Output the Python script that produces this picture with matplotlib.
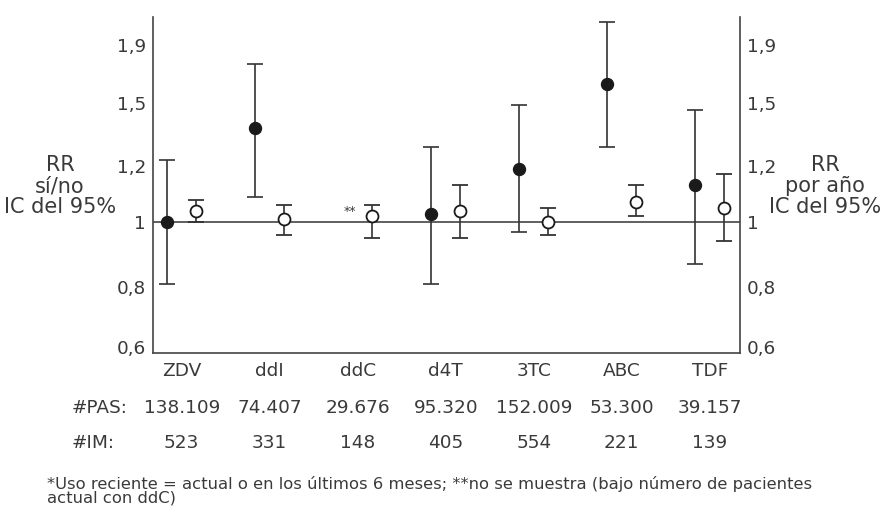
import numpy as np
import matplotlib
matplotlib.use("Agg")
import matplotlib.pyplot as plt
from matplotlib.transforms import blended_transform_factory

plt.rcParams['font.family'] = ['DejaVu Sans']

# ---- data ----
categories = ["ZDV", "ddI", "ddC", "d4T", "3TC", "ABC", "TDF"]
rr_yesno = [1.00, 1.38, np.nan, 1.03, 1.19, 1.63, 1.13]
rr_yesno_lo = [0.81, 1.09, np.nan, 0.81, 0.97, 1.29, 0.87]
rr_yesno_hi = [1.23, 1.77, np.nan, 1.29, 1.49, 2.06, 1.47]
rr_year = [1.04, 1.01, 1.02, 1.04, 1.00, 1.07, 1.05]
rr_year_lo = [1.00, 0.96, 0.95, 0.95, 0.96, 1.02, 0.94]
rr_year_hi = [1.08, 1.06, 1.06, 1.13, 1.05, 1.13, 1.17]
pas = ["138.109", "74.407", "29.676", "95.320", "152.009", "53.300", "39.157"]
im = ["523", "331", "148", "405", "554", "221", "139"]
tick_values = [0.6, 0.8, 1.0, 1.2, 1.5, 1.9]
tick_labels = ["0,6", "0,8", "1", "1,2", "1,5", "1,9"]
# relative spacing of the printed ticks on the original axis
scale_knots = [0.0, 0.994, 2.067, 3.0, 4.034, 5.0]
left_label = ["RR", "sí/no", "IC del 95%"]
right_label = ["RR", "por año", "IC del 95%"]
footnote = ("*Uso reciente = actual o en los últimos 6 meses; **no se muestra (bajo número de pacientes\n"
            "actual con ddC)")

# ---- piecewise scale ----
def _pw(v, xs, ys):
    v = np.asarray(v, dtype=float)
    shp = v.shape
    a = np.atleast_1d(v).astype(float)
    out = np.interp(a, xs, ys)
    lo = a < xs[0]
    hi = a > xs[-1]
    out[lo] = ys[0] + (a[lo] - xs[0]) * (ys[1] - ys[0]) / (xs[1] - xs[0])
    out[hi] = ys[-1] + (a[hi] - xs[-1]) * (ys[-1] - ys[-2]) / (xs[-1] - xs[-2])
    return out.reshape(shp)

def fwd(v):
    return _pw(v, tick_values, scale_knots)

def inv(p):
    return _pw(p, scale_knots, tick_values)

TXT = '#3a3a3a'
LINE = '#444444'
FS = 13.3
fig = plt.figure(figsize=(8.8, 5.08), dpi=100)
ax = fig.add_axes([0.1739, 0.3057, 0.667, 0.6599])
ax.set_yscale('function', functions=(fwd, inv))

x = np.arange(len(categories))
off = 0.167
y1 = np.array(rr_yesno)
y2 = np.array(rr_year)
ax.errorbar(x - off, y1,
            yerr=[y1 - np.array(rr_yesno_lo), np.array(rr_yesno_hi) - y1],
            fmt='o', color='#1a1a1a', ecolor='#333333', elinewidth=1.2,
            capsize=6, capthick=1.2, markersize=8.6, zorder=3)
ax.errorbar(x + off, y2,
            yerr=[y2 - np.array(rr_year_lo), np.array(rr_year_hi) - y2],
            fmt='o', color='#333333', mfc='white', mec='#1a1a1a', mew=1.3,
            ecolor='#333333', elinewidth=1.2,
            capsize=6, capthick=1.2, markersize=8.6, zorder=3)
ax.axhline(1.0, color=LINE, lw=1.2, zorder=1)

ax.annotate("**", xy=(2 + off, rr_year[2]), xytext=(-16.4, 3.6),
            textcoords='offset points', ha='center', va='center',
            fontsize=9, color=TXT)

ax.set_xlim(-0.326, 6.344)
ax.set_ylim(0.58, 2.09)
ax.set_yticks(tick_values)
ax.set_yticklabels(tick_labels)
ax.set_xticks(x)
ax.set_xticklabels(categories)
ax.minorticks_off()
ax.tick_params(axis='y', length=0, pad=5, labelsize=FS, labelcolor=TXT,
               labelleft=True, labelright=True)
ax.tick_params(axis='x', length=0, pad=7, labelsize=FS, labelcolor=TXT)
for s in ['left', 'right', 'bottom']:
    ax.spines[s].set_color(LINE)
    ax.spines[s].set_linewidth(1.2)
ax.spines['top'].set_visible(False)

for txt, yy in zip(left_label, [165, 186.5, 207.5]):
    fig.text(60 / 880, 1 - yy / 508, txt, ha='center', va='center',
             fontsize=15, color=TXT)
for txt, yy in zip(right_label, [165, 186.5, 207.5]):
    fig.text(825 / 880, 1 - yy / 508, txt, ha='center', va='center',
             fontsize=15, color=TXT)

tr = blended_transform_factory(ax.transData, fig.transFigure)
for i in range(len(categories)):
    ax.text(x[i], 1 - 408 / 508, pas[i], transform=tr, ha='center', va='center',
            fontsize=FS, color=TXT)
    ax.text(x[i], 1 - 443 / 508, im[i], transform=tr, ha='center', va='center',
            fontsize=FS, color=TXT)
fig.text(72 / 880, 1 - 408 / 508, "#PAS:", ha='left', va='center', fontsize=FS, color=TXT)
fig.text(72 / 880, 1 - 443 / 508, "#IM:", ha='left', va='center', fontsize=FS, color=TXT)

fig.text(47 / 880, 1 - 491 / 508, footnote, ha='left', va='center', fontsize=11.8,
         color=TXT, linespacing=0.85)

fig.savefig("out.png", dpi=100)
